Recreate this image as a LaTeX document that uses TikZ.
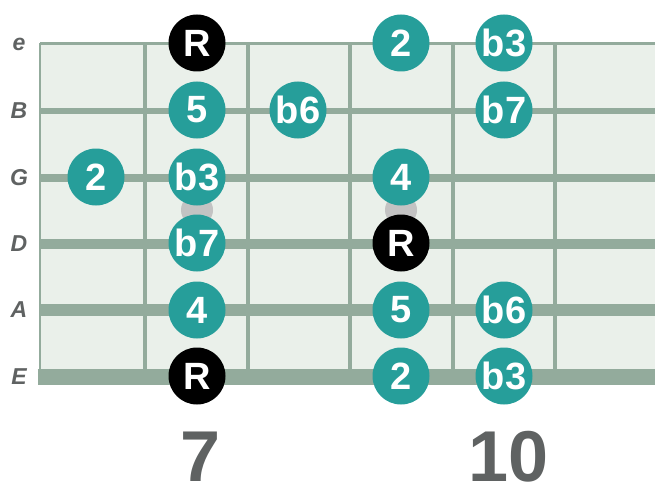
\documentclass[tikz,border=0pt]{standalone}
\usepackage{fontspec}
\setmainfont{Liberation Sans}
\usetikzlibrary{positioning}

\definecolor{boardbg}{HTML}{EAF0EA}
\definecolor{fretline}{HTML}{93AB9C}
\definecolor{noteteal}{HTML}{269E9A}
\definecolor{inlaygray}{HTML}{C3C3C3}
\definecolor{labelgray}{HTML}{5F6262}

\begin{document}
\begin{tikzpicture}[
    x=1pt, y=-1pt,
    note/.style={circle, fill=noteteal, minimum size=57pt, inner sep=0pt,
        text=white, font=\fontsize{38}{38}\selectfont\bfseries},
    root/.style={note, fill=black},
    inlay/.style={circle, fill=inlaygray, minimum size=32pt, inner sep=0pt},
    strlabel/.style={text=labelgray, inner sep=0pt, font=\fontsize{23}{23}\selectfont\bfseries\itshape},
    fretnum/.style={text=labelgray, anchor=base, inner sep=0pt, font=\fontsize{72}{72}\selectfont\bfseries}
]
\useasboundingbox (0,0) rectangle (655,484);

% ---- Board ----
\fill[boardbg] (40,43) rectangle (655,377);
\draw[fretline, line width=2.5pt] (40,43) -- (40,377);
\foreach \fx in {145,248,350,453,555}
    \draw[fretline, line width=4.5pt] (\fx,43) -- (\fx,377);

% ---- Strings ----
\foreach \sy/\sw in {43.5/3, 111/5.5, 178/7.5, 244/9.5, 310/12}
    \draw[fretline, line width=\sw pt] (40,\sy) -- (655,\sy);
\draw[fretline, line width=16pt] (37.5,377) -- (655,377);

% ---- String names ----
\node[strlabel] (lbe) at (19,44) {e};
\node[strlabel] (lbB) at (19,111) {B};
\node[strlabel] (lbG) at (19,178) {G};
\node[strlabel] (lbD) at (19,244) {D};
\node[strlabel] (lbA) at (19,310) {A};
\node[strlabel] (lbE) at (19,377) {E};

% ---- Inlays ----
\node[inlay] (inlay7) at (197,210) {};
\node[inlay] (inlay9) at (401,210) {};

% ---- Notes ----
\node[root] (e7)  at (197,43) {R};
\node[note] (e9)  at (401,43) {2};
\node[note] (e10) at (504,43) {b3};

\node[note] (B7)  at (197,110) {5};
\node[note] (B8)  at (298,110) {b6};
\node[note] (B10) at (504,110) {b7};

\node[note] (G6)  at (96,177) {2};
\node[note] (G7)  at (197,177) {b3};
\node[note] (G9)  at (401,177) {4};

\node[note] (D7)  at (197,243) {b7};
\node[root] (D9)  at (401,243) {R};

\node[note] (A7)  at (197,310) {4};
\node[note] (A9)  at (401,310) {5};
\node[note] (A10) at (504,310) {b6};

\node[root] (E7)  at (197,376) {R};
\node[note] (E9)  at (401,376) {2};
\node[note] (E10) at (504,376) {b3};

% ---- Fret numbers ----
\node[fretnum] (num7)  at (201,481) {7};
\node[fretnum] (num10) at (509,481) {10};
\end{tikzpicture}
\end{document}
